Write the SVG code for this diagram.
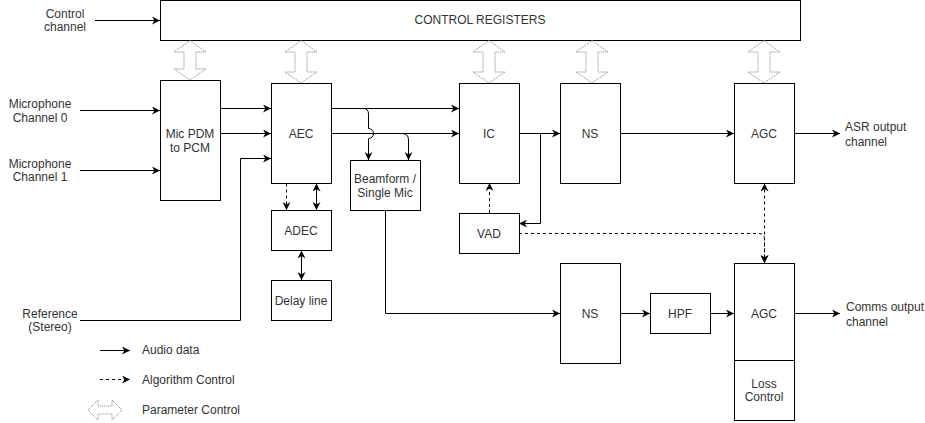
<svg xmlns="http://www.w3.org/2000/svg" width="925" height="423" viewBox="0 0 925 423">
<style>
.box{fill:#fff;stroke:#000;stroke-width:1}
.t{font-family:"Liberation Sans",Arial,sans-serif;font-size:12px;fill:#333}
.c{text-anchor:middle}
.e{fill:none;stroke:#000;stroke-width:1}
.d{stroke-dasharray:3 3}
.a{marker-end:url(#ah)}
.b{marker-start:url(#ah);marker-end:url(#ah)}
.p{fill:#fff;stroke:#808080;stroke-width:1;stroke-dasharray:1 1}
</style>
<defs>
<marker id="ah" viewBox="0 0 10 10" refX="10" refY="5" markerWidth="9" markerHeight="8" markerUnits="userSpaceOnUse" orient="auto-start-reverse">
<path d="M0,0 L10,5 L0,10 L3,5 z" fill="#000"/>
</marker>
</defs>
<rect width="925" height="423" fill="#fff"/>

<g id="labels">
<text class="t c" x="65" y="18">Control</text>
<text class="t c" x="65" y="31">channel</text>
<text class="t c" x="40" y="108">Microphone</text>
<text class="t c" x="40" y="122">Channel 0</text>
<text class="t c" x="40" y="168">Microphone</text>
<text class="t c" x="40" y="181">Channel 1</text>
<text class="t c" x="50" y="318">Reference</text>
<text class="t c" x="50" y="331">(Stereo)</text>
<text class="t" x="845" y="131">ASR output</text>
<text class="t" x="845" y="146">channel</text>
<text class="t" x="846" y="311">Comms output</text>
<text class="t" x="846" y="326">channel</text>
</g>

<g id="control-registers">
<rect class="box" x="160.5" y="0.5" width="640" height="40"/>
<text class="t c" x="480" y="24">CONTROL REGISTERS</text>
</g>
<g id="mic-pdm">
<rect class="box" x="160.5" y="80.5" width="60" height="120"/>
<text class="t c" x="190" y="137.5">Mic PDM</text>
<text class="t c" x="190" y="152">to PCM</text>
</g>
<g id="aec">
<rect class="box" x="271.5" y="83.5" width="60" height="100"/>
<text class="t c" x="301" y="137.5">AEC</text>
</g>
<g id="adec">
<rect class="box" x="271.5" y="210.5" width="60" height="40"/>
<text class="t c" x="301" y="234.5">ADEC</text>
</g>
<g id="delay-line">
<rect class="box" x="271.5" y="280.5" width="60" height="40"/>
<text class="t c" x="301" y="304.5">Delay line</text>
</g>
<g id="beamform">
<rect class="box" x="350.5" y="160.5" width="70" height="50"/>
<text class="t c" x="385" y="183">Beamform /</text>
<text class="t c" x="385" y="197">Single Mic</text>
</g>
<g id="ic">
<rect class="box" x="459.5" y="83.5" width="60" height="100"/>
<text class="t c" x="489" y="137.5">IC</text>
</g>
<g id="vad">
<rect class="box" x="459.5" y="213.5" width="60" height="40"/>
<text class="t c" x="489" y="237.5">VAD</text>
</g>
<g id="ns-top">
<rect class="box" x="560.5" y="83.5" width="60" height="100"/>
<text class="t c" x="590" y="137.5">NS</text>
</g>
<g id="agc-top">
<rect class="box" x="734.5" y="83.5" width="60" height="100"/>
<text class="t c" x="764" y="137.5">AGC</text>
</g>
<g id="ns-bottom">
<rect class="box" x="560.5" y="263.5" width="60" height="100"/>
<text class="t c" x="590" y="317.5">NS</text>
</g>
<g id="hpf">
<rect class="box" x="650.5" y="293.5" width="60" height="40"/>
<text class="t c" x="680" y="317.5">HPF</text>
</g>
<g id="agc-bottom">
<rect class="box" x="734.5" y="263.5" width="60" height="97"/>
<text class="t c" x="764" y="317.5">AGC</text>
</g>
<g id="loss-control">
<rect class="box" x="734.5" y="360.5" width="60" height="60"/>
<text class="t c" x="764" y="387.5">Loss</text>
<text class="t c" x="764" y="401">Control</text>
</g>

<g id="parameter-arrows">
<path class="p" d="M190,40.5 L206,52 L196,52 L196,69 L206,69 L190,80 L174,69 L184,69 L184,52 L174,52 Z"/>
<path class="p" d="M301,40.5 L317,52 L307,52 L307,72 L317,72 L301,83 L285,72 L295,72 L295,52 L285,52 Z"/>
<path class="p" d="M489,40.5 L505,52 L495,52 L495,72 L505,72 L489,83 L473,72 L483,72 L483,52 L473,52 Z"/>
<path class="p" d="M592,40.5 L608,52 L598,52 L598,72 L608,72 L592,83 L576,72 L586,72 L586,52 L576,52 Z"/>
<path class="p" d="M764,40.5 L780,52 L770,52 L770,72 L780,72 L764,83 L748,72 L758,72 L758,52 L748,52 Z"/>
</g>

<g id="connectors">
<path class="e a" d="M95,20.5 H160"/>
<path class="e a" d="M80,110.5 H160"/>
<path class="e a" d="M80,170.5 H160"/>
<path class="e a" d="M220,108.5 H271"/>
<path class="e a" d="M220,133.5 H271"/>
<path class="e a" d="M80,320.5 H240.5 V158.5 H271"/>
<path class="e a" d="M331,108.5 H459"/>
<path class="e a" d="M331,133.5 H459"/>
<path class="e a" d="M331,108.5 H363 Q368.5,108.5 368.5,114 V128.5 A5,5 0 0 1 368.5,138.5 V160"/>
<path class="e a" d="M331,133.5 H402 Q408.5,133.5 408.5,140 V160"/>
<path class="e a" d="M519,133.5 H560"/>
<path class="e a" d="M540.5,133.5 V223.5 H519"/>
<path class="e d a" d="M489.5,213 V183"/>
<path class="e a" d="M620,133.5 H734"/>
<path class="e a" d="M794,133.5 H840"/>
<path class="e d a" d="M519,233.5 H759 Q764.5,233.5 764.5,239 V263"/>
<path class="e d b" d="M764.5,183.5 V263"/>
<path class="e d a" d="M286.5,183.5 V210"/>
<path class="e b" d="M316.5,183.5 V210"/>
<path class="e b" d="M301.5,250.5 V280"/>
<path class="e a" d="M385.5,210.5 V313.5 H560"/>
<path class="e a" d="M620,313.5 H650"/>
<path class="e a" d="M710,313.5 H734"/>
<path class="e a" d="M794,313.5 H840"/>
</g>

<g id="legend">
<path class="e a" d="M100,350.5 H130"/>
<text class="t" x="142" y="354">Audio data</text>
<path class="e d a" d="M100,379.5 H130"/>
<text class="t" x="142" y="384">Algorithm Control</text>
<path class="p" d="M88,410 L98,400 L98,406 L112,406 L112,400 L122,410 L112,420 L112,414 L98,414 L98,420 Z"/>
<text class="t" x="142" y="414">Parameter Control</text>
</g>
</svg>
